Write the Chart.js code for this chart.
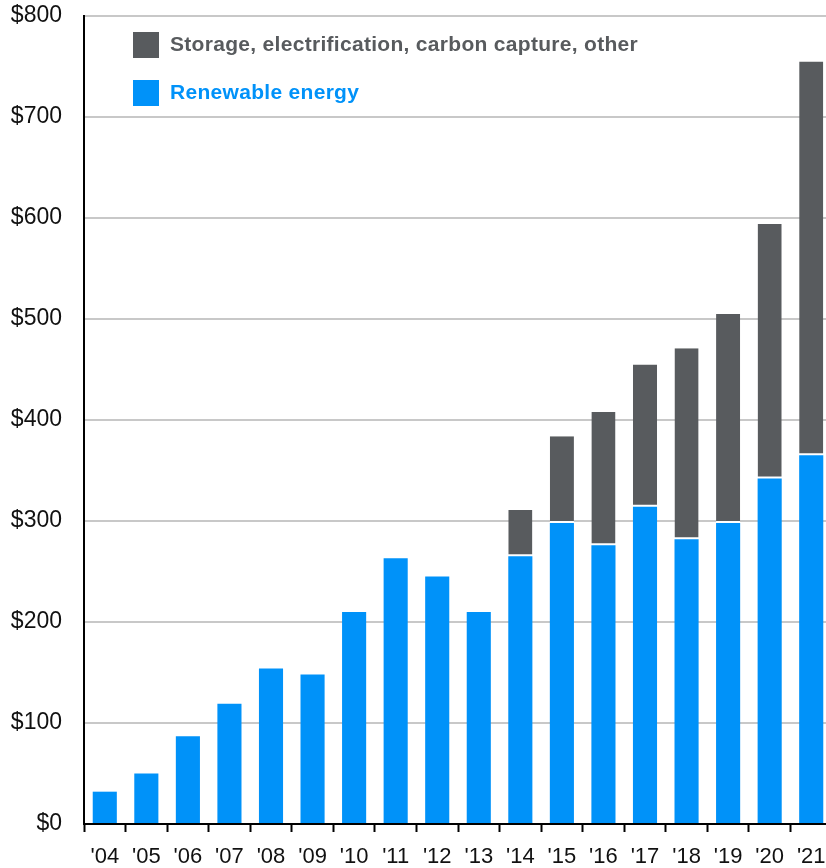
<!DOCTYPE html>
<html>
<head>
<meta charset="utf-8">
<script src="https://cdn.jsdelivr.net/npm/chart.js@4/dist/chart.umd.min.js"></script>
<style>
html,body{margin:0;padding:0;background:#fff;overflow:hidden;}
#wrap{width:826px;height:868px;overflow:hidden;position:relative;}
canvas{display:block;}
</style>
</head>
<body>
<div id="wrap"><canvas id="c" width="832" height="868"></canvas></div>
<script>
const categories = ["'04","'05","'06","'07","'08","'09","'10","'11","'12","'13","'14","'15","'16","'17","'18","'19","'20","'21"];
const renewable = [32, 50, 87, 119, 154, 148, 210, 263, 245, 210, 265, 298, 276, 314, 282, 298, 342, 365];
const storageOther = [0, 0, 0, 0, 0, 0, 0, 0, 0, 0, 46, 86, 132, 141, 189, 207, 252, 390];
const yTicks = [0, 100, 200, 300, 400, 500, 600, 700, 800];
const seriesNames = ["Renewable energy", "Storage, electrification, carbon capture, other"];

const BLUE = '#0092f9';
const GRAY = '#585b5e';
const FONT = "'Liberation Sans', Arial, sans-serif";

const legendPlugin = {
  id: 'customLegend',
  afterDraw(chart) {
    const ctx = chart.ctx;
    ctx.save();
    const items = [
      {label: seriesNames[1], color: GRAY, y: 32},
      {label: seriesNames[0], color: BLUE, y: 80}
    ];
    items.forEach(it => {
      ctx.fillStyle = it.color;
      ctx.fillRect(133, it.y, 26, 26);
      ctx.font = "bold 21px " + FONT;
      try { ctx.letterSpacing = '0.3px'; } catch (e) {}
      ctx.textBaseline = 'middle';
      ctx.textAlign = 'left';
      ctx.fillText(it.label, 170, it.y + 13);
    });
    ctx.restore();
  }
};

new Chart(document.getElementById('c'), {
  type: 'bar',
  data: {
    labels: categories,
    datasets: [
      {
        label: seriesNames[0],
        data: renewable,
        backgroundColor: BLUE,
        borderWidth: 0,
        barPercentage: 0.58,
        categoryPercentage: 1.0
      },
      {
        label: seriesNames[1],
        data: storageOther,
        backgroundColor: GRAY,
        borderColor: '#ffffff',
        borderWidth: {top: 0, left: 0, right: 0, bottom: 2},
        borderSkipped: false,
        barPercentage: 0.58,
        categoryPercentage: 1.0
      }
    ]
  },
  options: {
    responsive: false,
    animation: false,
    layout: {padding: {top: 16, right: 0, left: 0, bottom: 0}},
    plugins: {
      legend: {display: false},
      tooltip: {enabled: false}
    },
    scales: {
      x: {
        stacked: true,
        offset: true,
        grid: {
          offset: true,
          drawOnChartArea: false,
          drawTicks: true,
          tickLength: 8,
          tickWidth: 2,
          tickColor: '#000'
        },
        border: {display: true, color: '#000', width: 2},
        ticks: {
          color: '#111',
          font: {family: FONT, size: 22},
          padding: 12,
          maxRotation: 0,
          autoSkip: false
        },
        afterFit(scale) {
          scale.height = 44;
          scale.paddingLeft = 0;
          scale.paddingRight = 0;
        }
      },
      y: {
        stacked: true,
        min: 0,
        max: 800,
        afterBuildTicks(scale) { scale.ticks = yTicks.map(v => ({value: v})); },
        grid: {
          color: '#c8c8c8',
          lineWidth: 2,
          drawTicks: false
        },
        border: {display: true, color: '#000', width: 2},
        ticks: {
          color: '#111',
          font: {family: FONT, size: 23},
          padding: 22,
          callback: v => '$' + v
        },
        afterFit(scale) {
          scale.width = 84;
          scale.paddingTop = 0;
          scale.paddingBottom = 0;
        }
      }
    }
  },
  plugins: [legendPlugin]
});
</script>
</body>
</html>
